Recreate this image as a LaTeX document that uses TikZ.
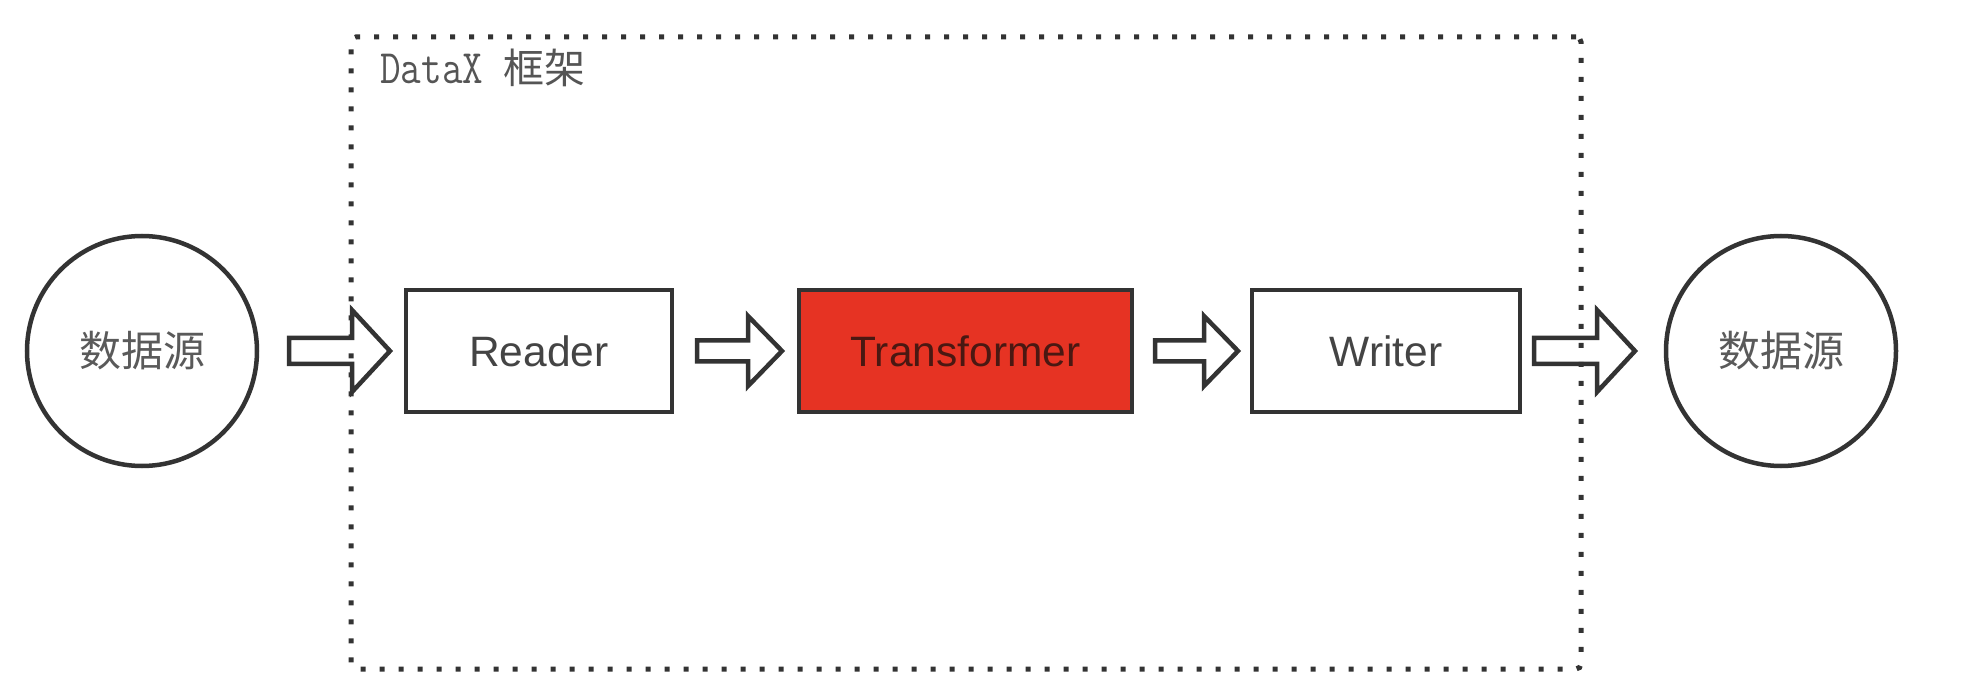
\documentclass[tikz,border=0pt]{standalone}
\usepackage{fontspec}
\setmainfont{Liberation Sans}
\newfontfamily\cjk{Noto Sans CJK SC}
\usetikzlibrary{calc}
\definecolor{edge}{HTML}{333333}
\definecolor{tred}{HTML}{E63323}
\definecolor{ttext}{HTML}{4A1812}
\definecolor{gtext}{HTML}{444444}
\definecolor{ctext}{HTML}{5A5A5A}
\definecolor{ltext}{HTML}{555555}
\begin{document}
\begin{tikzpicture}[x=1pt,y=-1pt,
  src/.style={circle, draw=edge, line width=4.5pt, minimum size=230pt, inner sep=0pt, outer sep=0pt,
    text=ctext, font=\cjk\fontsize{42pt}{42pt}\selectfont},
  proc/.style={rectangle, draw=edge, line width=4.5pt, minimum height=122pt, inner sep=0pt, outer sep=0pt,
    fill=white, text=gtext, font=\fontsize{42.5pt}{42.5pt}\selectfont},
  dotframe/.style={rectangle, draw=edge, line width=5pt, dash pattern=on 5pt off 14pt,
    rounded corners=5pt, inner sep=0pt, outer sep=0pt},
  barrow/.style n args={3}{draw=edge, fill=white, line width=4.5pt, line join=miter,
    to path={let \p1=(\tikztostart), \p2=(\tikztotarget) in
      (\x1,\y1+#1) -- (\x2-#3,\y1+#1) -- (\x2-#3,\y1+#2) -- (\x2,\y1)
      -- (\x2-#3,\y1-#2) -- (\x2-#3,\y1-#1) -- (\x1,\y1-#1) -- cycle}},
]
\useasboundingbox (0,0) rectangle (1962,700);

\node[src] (c1) at (142,351) {数据源};
\node[proc, minimum width=266pt] (reader) at (539,351) {Reader};
\node[proc, minimum width=333pt, fill=tred, text=ttext] (trans) at (965.5,351) {Transformer};
\node[proc, minimum width=268pt] (writer) at (1386,351) {Writer};
\node[src] (c2) at (1781,351) {数据源};

\draw[barrow={13}{41}{38}] ([xshift=32pt]c1.east) to ([xshift=-16pt]reader.west);
\draw[barrow={10.5}{35}{34}] ([xshift=25pt]reader.east) to ([xshift=-17pt]trans.west);
\draw[barrow={10.5}{35}{34}] ([xshift=23pt]trans.east) to ([xshift=-14pt]writer.west);
\draw[barrow={13}{41}{38}] ([xshift=14pt]writer.east) to ([xshift=-31pt]c2.west);

\node[dotframe, minimum width=1230pt, minimum height=632pt] (fw) at (966,353) {};
\node[anchor=base west, inner sep=0pt, text=ltext] (lbl) at (380,84)
  {\scalebox{1}[1.2]{\fontsize{40pt}{40pt}\ttfamily DataX\ }{\cjk\fontsize{41pt}{41pt}\selectfont 框架}};
\end{tikzpicture}
\end{document}
